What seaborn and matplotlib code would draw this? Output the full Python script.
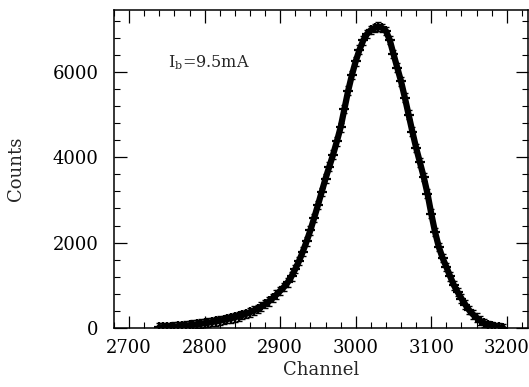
import numpy as np
import pandas as pd
import matplotlib
matplotlib.use("Agg")
import matplotlib.pyplot as plt
from matplotlib.ticker import MultipleLocator
import seaborn as sns

# ==========================================
# DATA
# ==========================================

channel = list(range(2740, 3200, 5))

counts = [
    15, 19,
    23, 28, 33, 40, 48, 56, 65, 76, 88, 100,
    112, 125, 140, 155, 172, 190, 208, 228, 250, 275,
    302, 332, 368, 405, 450, 500, 560, 625, 700, 780,
    870, 960, 1070, 1210, 1380, 1570, 1790, 2030, 2290, 2580,
    2880, 3190, 3500, 3780, 4060, 4370, 4700, 5130, 5560, 5930,
    6250, 6520, 6740, 6890, 6980, 7030, 7060, 7030, 6960, 6750,
    6420, 6100, 5780, 5400, 5000, 4600, 4220, 3880, 3540, 3150,
    2680, 2250, 1900, 1640, 1430, 1210, 1000, 840, 690, 550,
    420, 320, 240, 170, 115, 75, 45, 25, 12, 5,
]

x_ticks = [2700, 2800, 2900, 3000, 3100, 3200]
y_ticks = [0, 2000, 4000, 6000]

df = pd.DataFrame({"Channel": channel, "Counts": counts})

# ==========================================
# STYLE
# ==========================================

sns.set_style("ticks")
plt.rcParams["font.family"] = ["DejaVu Serif"]
plt.rcParams["mathtext.fontset"] = "dejavuserif"

fig = plt.figure(figsize=(5.29, 3.87), dpi=100)
ax = fig.add_axes([0.2155, 0.1525, 0.7825, 0.8215])

# ==========================================
# PLOT
# ==========================================

sns.lineplot(data=df, x="Channel", y="Counts", ax=ax,
             color="black", linewidth=4.5)

ax.errorbar(
    df["Channel"], df["Counts"], yerr=100,
    fmt="none", ecolor="black", elinewidth=1.0, capsize=2.5
)

sns.scatterplot(
    data=df, x="Channel", y="Counts", ax=ax,
    marker="+", s=45, color="black", linewidth=1.6
)

ax.set_xlim(2680, 3228)
ax.set_ylim(0, 7450)

ax.set_xticks(x_ticks)
ax.set_yticks(y_ticks)
ax.xaxis.set_minor_locator(MultipleLocator(20))
ax.yaxis.set_minor_locator(MultipleLocator(400))

ax.tick_params(which="both", direction="in", top=True, right=True,
               colors="black", labelsize=13)
ax.tick_params(which="major", length=9, width=0.9)
ax.tick_params(axis="x", which="major", pad=8)
ax.tick_params(axis="y", which="major", pad=11)
ax.tick_params(which="minor", length=4, width=0.8)

for spine in ax.spines.values():
    spine.set_linewidth(1.1)
    spine.set_color("black")

ax.set_xlabel("Channel", fontsize=13, labelpad=3)
ax.set_ylabel("Counts", fontsize=13, labelpad=20)

ax.text(0.13, 0.836, r"I$_{\rm b}$=9.5mA", transform=ax.transAxes,
        fontsize=11.5, ha="left", va="center")

plt.savefig("out.png", dpi=100)
